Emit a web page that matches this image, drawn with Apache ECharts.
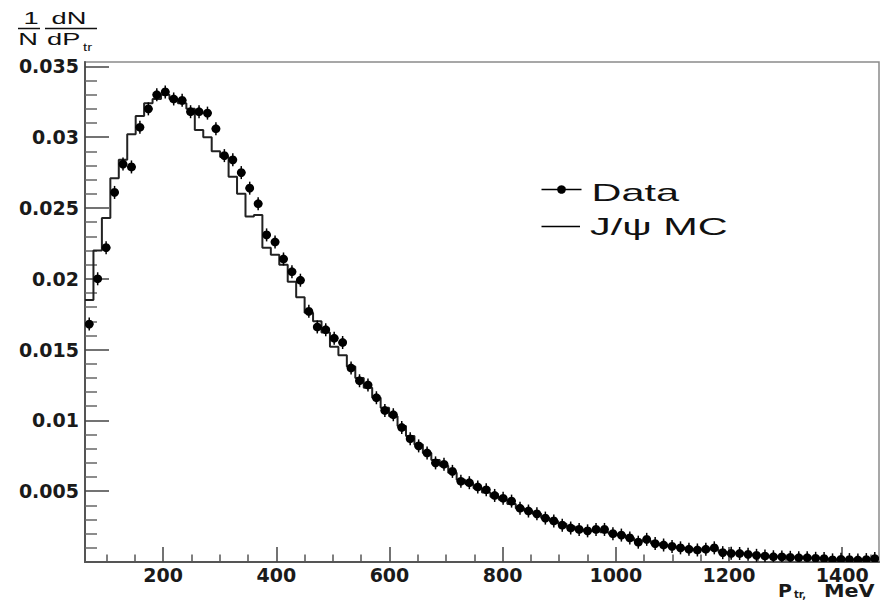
<!DOCTYPE html>
<html>
<head>
<meta charset="utf-8">
<script src="https://cdn.jsdelivr.net/npm/echarts@6/dist/echarts.min.js"></script>
<style>
  html, body { margin: 0; padding: 0; background: #fff; }
  #chart { width: 881px; height: 601px; }
</style>
</head>
<body>
<div id="chart"></div>
<script>
// ---- Histogram binning (MeV) ----
const xMin = 62;
const xMax = 1465;
const nBins = 94;
const binWidth = (xMax - xMin) / nBins;

// ---- Data points (1/N dN/dP_tr), one per bin ----
const dataValues = [
  0.0168,0.0200,0.0222,0.0261,0.0281,0.0279,0.0307,0.0320,0.0330,0.0332,
  0.0327,0.0326,0.0318,0.0318,0.0317,0.0306,0.0287,0.0284,0.0275,0.0264,
  0.0253,0.0231,0.0226,0.0214,0.0205,0.0199,0.0177,0.0166,0.0164,0.0158,
  0.0155,0.0137,0.0128,0.0125,0.0116,0.0107,0.0104,0.0095,0.0087,0.0082,
  0.0077,0.0070,0.0069,0.0064,0.0057,0.0056,0.0053,0.0051,0.0047,0.0045,
  0.0043,0.0038,0.0036,0.0034,0.0031,0.0029,0.0026,0.0024,0.0023,0.0022,
  0.0023,0.0023,0.0020,0.0019,0.0017,0.0014,0.0016,0.0013,0.0012,0.0011,
  0.0010,0.0009,0.00085,0.0009,0.0010,0.00066,0.00061,0.0006,0.00054,0.00047,
  0.00042,0.00037,0.00036,0.00033,0.0003,0.0003,0.00026,0.00024,0.00015,0.00019,
  0.00017,0.00014,0.00017,0.00024
];

// ---- J/psi MC histogram, one value per bin ----
const mcValues = [
  0.0185,0.0220,0.0243,0.0271,0.0284,0.0302,0.0315,0.0324,0.0327,0.0330,
  0.0327,0.0324,0.0320,0.0305,0.0300,0.0290,0.0286,0.0272,0.0260,0.0244,
  0.0245,0.0222,0.0217,0.0210,0.0198,0.0187,0.0176,0.0170,0.0162,0.0152,
  0.0146,0.0138,0.0130,0.0123,0.0116,0.0109,0.0103,0.0096,0.0089,0.0083,
  0.0077,0.0072,0.0068,0.0063,0.0058,0.0055,0.0052,0.0049,0.0046,0.0044,
  0.0041,0.0038,0.0036,0.0034,0.0031,0.0029,0.0027,0.0025,0.0023,0.0022,
  0.0022,0.0021,0.0020,0.0019,0.0017,0.0015,0.0015,0.0013,0.0012,0.0011,
  0.0010,0.0009,0.00088,0.00088,0.0009,0.0007,0.00062,0.0006,0.00054,0.00048,
  0.00043,0.00038,0.00036,0.00033,0.0003,0.0003,0.00027,0.00024,0.00018,0.00019,
  0.00017,0.00015,0.00017,0.00022
];

// ---- Tick values ----
const xMajorTicks = [200, 400, 600, 800, 1000, 1200, 1400];
const xMinorTicks = [100, 150, 250, 300, 350, 450, 500, 550, 650, 700, 750,
  850, 900, 950, 1050, 1100, 1150, 1250, 1300, 1350, 1450];
const yMajorTicks = [0.005, 0.01, 0.015, 0.02, 0.025, 0.03, 0.035];
const yMinorTicks = [0.001, 0.002, 0.003, 0.004, 0.006, 0.007, 0.008, 0.009,
  0.011, 0.012, 0.013, 0.014, 0.016, 0.017, 0.018, 0.019,
  0.021, 0.022, 0.023, 0.024, 0.026, 0.027, 0.028, 0.029,
  0.031, 0.032, 0.033, 0.034];
const yMax = 0.03531;

const legendNames = ['Data', 'J/\u03c8 MC'];

// ---- build series data ----
const dataPoints = dataValues.map((v, i) => [xMin + (i + 0.5) * binWidth, v]);
const mcStep = mcValues.map((v, i) => [xMin + i * binWidth, v]);
mcStep.push([xMax, mcValues[mcValues.length - 1]]);

const chart = echarts.init(document.getElementById('chart'), null, { renderer: 'svg' });

const labelFont = { fontFamily: 'DejaVu Sans', fontWeight: 'bold', fontSize: 19, color: '#1a1a1a', lineHeight: 15 };
const axisLineStyle = { color: '#555', width: 2 };

chart.setOption({
  animation: false,
  backgroundColor: '#fff',
  grid: { left: 85, right: 2, top: 62, bottom: 39, show: true, borderColor: '#8a8a8a', borderWidth: 1.5, backgroundColor: 'transparent' },
  xAxis: [
    {
      type: 'value', min: xMin, max: xMax, position: 'bottom',
      axisLine: { show: true, onZero: false, lineStyle: axisLineStyle },
      axisTick: { show: true, inside: true, length: 15, customValues: xMajorTicks, lineStyle: { color: '#444', width: 1.5 } },
      axisLabel: Object.assign({ show: true, margin: 5, customValues: xMajorTicks, formatter: v => String(v) }, labelFont),
      splitLine: { show: false }
    },
    {
      type: 'value', min: xMin, max: xMax, position: 'bottom',
      axisLine: { show: false },
      axisTick: { show: true, inside: true, length: 7.5, customValues: xMinorTicks, lineStyle: { color: '#555', width: 1.5 } },
      axisLabel: { show: false },
      splitLine: { show: false }
    }
  ],
  yAxis: [
    {
      type: 'value', min: 0, max: yMax, position: 'left',
      axisLine: { show: true, onZero: false, lineStyle: axisLineStyle },
      axisTick: { show: true, inside: true, length: 24, customValues: yMajorTicks, lineStyle: { color: '#444', width: 1.5 } },
      axisLabel: Object.assign({ show: true, margin: 6, customValues: yMajorTicks, formatter: v => String(v) }, labelFont),
      splitLine: { show: false }
    },
    {
      type: 'value', min: 0, max: yMax, position: 'left', offset: 0,
      axisLine: { show: false },
      axisTick: { show: true, inside: true, length: 12, customValues: yMinorTicks, lineStyle: { color: '#666', width: 1.5 } },
      axisLabel: { show: false },
      splitLine: { show: false }
    }
  ],
  series: [
    {
      name: legendNames[1],
      type: 'line',
      xAxisIndex: 0, yAxisIndex: 0,
      step: 'end',
      data: mcStep,
      symbol: 'none',
      clip: true,
      lineStyle: { color: '#222', width: 2 },
      z: 2
    },
    {
      name: legendNames[0],
      type: 'custom',
      xAxisIndex: 0, yAxisIndex: 0,
      data: dataPoints,
      encode: { x: 0, y: 1 },
      clip: true,
      z: 3,
      renderItem: function (params, api) {
        const p = api.coord([api.value(0), api.value(1)]);
        const hw = api.size([binWidth, 0])[0] / 2;
        return {
          type: 'group',
          children: [
            { type: 'line', shape: { x1: p[0], y1: p[1] - 6.5, x2: p[0], y2: p[1] + 6.5 }, style: { stroke: '#000', lineWidth: 1.5 } },
            { type: 'line', shape: { x1: p[0] - hw, y1: p[1], x2: p[0] + hw, y2: p[1] }, style: { stroke: '#000', lineWidth: 1.5 } },
            { type: 'circle', shape: { cx: p[0], cy: p[1], r: 4.4 }, style: { fill: '#000' } }
          ]
        };
      }
    }
  ],
  graphic: [
    // y-axis title: 1/N dN/dP_tr
    { type: 'text', x: 31, y: 19, scaleX: 1.65, style: { text: '1', font: '16.5px "Liberation Sans"', fill: '#111', align: 'center', verticalAlign: 'middle' } },
    { type: 'line', shape: { x1: 18, y1: 28.5, x2: 40, y2: 28.5 }, style: { stroke: '#111', lineWidth: 1.5 } },
    { type: 'text', x: 28, y: 39.5, scaleX: 1.65, style: { text: 'N', font: '16.5px "Liberation Sans"', fill: '#111', align: 'center', verticalAlign: 'middle' } },
    { type: 'text', x: 69, y: 19, scaleX: 1.65, style: { text: 'dN', font: '16.5px "Liberation Sans"', fill: '#111', align: 'center', verticalAlign: 'middle' } },
    { type: 'line', shape: { x1: 45, y1: 28.5, x2: 97, y2: 28.5 }, style: { stroke: '#111', lineWidth: 1.5 } },
    { type: 'text', x: 47, y: 39.5, scaleX: 1.65, style: { text: 'dP', font: '16.5px "Liberation Sans"', fill: '#111', align: 'left', verticalAlign: 'middle' } },
    { type: 'text', x: 83, y: 47.5, scaleX: 1.5, style: { text: 'tr', font: '10px "Liberation Sans"', fill: '#111', align: 'left', verticalAlign: 'middle' } },
    // x-axis title: P_tr, MeV
    { type: 'text', x: 778, y: 590.5, scaleX: 1.05, style: { text: 'P', font: 'bold 18px "DejaVu Sans"', lineHeight: 14, fill: '#1a1a1a', align: 'left', verticalAlign: 'middle' } },
    { type: 'text', x: 794, y: 594, style: { text: 'tr,', font: 'bold 10px "DejaVu Sans"', lineHeight: 8, fill: '#1a1a1a', align: 'left', verticalAlign: 'middle' } },
    { type: 'text', x: 824, y: 590.5, scaleX: 1.15, style: { text: 'MeV', font: 'bold 18px "DejaVu Sans"', lineHeight: 14, fill: '#1a1a1a', align: 'left', verticalAlign: 'middle' } },
    // legend
    { type: 'line', shape: { x1: 541.5, y1: 189.5, x2: 581.5, y2: 189.5 }, style: { stroke: '#000', lineWidth: 1.5 } },
    { type: 'circle', shape: { cx: 561.5, cy: 189.5, r: 4.3 }, style: { fill: '#000' } },
    { type: 'text', x: 591.5, y: 193.5, scaleX: 1.8, style: { text: legendNames[0], font: '23px "Liberation Sans"', fill: '#111', align: 'left', verticalAlign: 'middle' } },
    { type: 'line', shape: { x1: 541.5, y1: 226.5, x2: 580, y2: 226.5 }, style: { stroke: '#000', lineWidth: 1.5 } },
    { type: 'text', x: 590, y: 227.5, scaleX: 1.8, style: { text: legendNames[1], font: '23px "Liberation Sans"', fill: '#111', align: 'left', verticalAlign: 'middle' } }
  ]
});
</script>
</body>
</html>
